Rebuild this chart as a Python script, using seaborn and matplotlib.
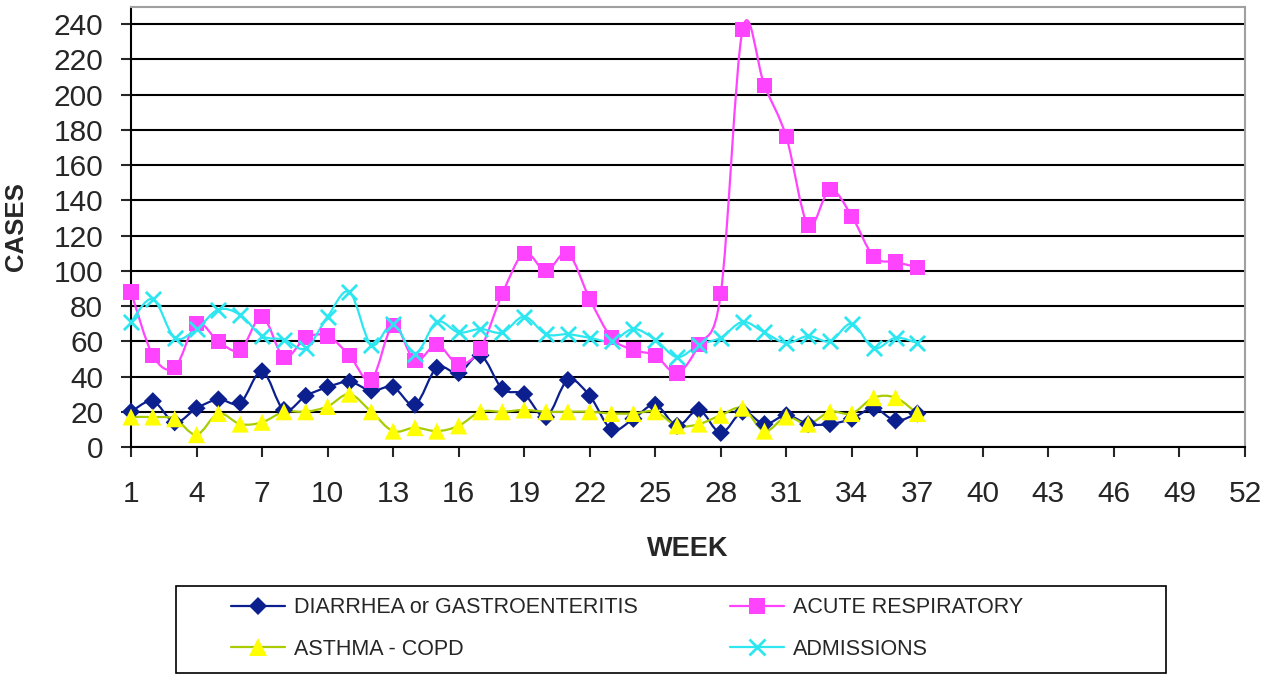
import matplotlib
matplotlib.use("Agg")
import matplotlib.pyplot as plt
from matplotlib.path import Path
from matplotlib.patches import PathPatch, Rectangle
from matplotlib.lines import Line2D
import seaborn as sns
import numpy as np

# data
weeks = list(range(1, 38))
diarrhea = [20, 26, 14, 22, 27, 25, 43, 21, 29, 34, 37, 32, 34, 24, 45, 42, 52, 33, 30, 17,
            38, 29, 10, 16, 24, 12, 21, 8, 20, 13, 18, 13, 13, 16, 22, 15, 19]
acute_resp = [88, 52, 45, 70, 60, 55, 74, 51, 62, 63, 52, 38, 69, 49, 58, 47, 56, 87, 110, 100,
              110, 84, 62, 55, 52, 42, 58, 87, 237, 205, 176, 126, 146, 131, 108, 105, 102]
asthma = [17, 17, 16, 7, 19, 13, 14, 20, 20, 23, 30, 20, 9, 11, 9, 12, 20, 20, 21, 20,
          20, 20, 19, 19, 20, 12, 13, 18, 22, 9, 17, 13, 20, 19, 28, 28, 19]
admissions = [71, 84, 62, 67, 78, 75, 63, 61, 56, 74, 88, 58, 70, 53, 71, 65, 67, 65, 74, 64,
              64, 62, 60, 67, 61, 51, 58, 62, 71, 65, 59, 63, 60, 70, 56, 62, 59]

series_names = ["DIARRHEA or GASTROENTERITIS", "ACUTE RESPIRATORY", "ASTHMA - COPD", "ADMISSIONS"]
x_ticks = list(range(1, 53, 3))
y_ticks = list(range(0, 241, 20))

sns.set_style("white")
plt.rcParams["font.family"] = ["Liberation Sans", "DejaVu Sans"]


def smooth_path(xs, ys):
    # excel-like smoothed line: cubic bezier through every point (catmull-rom control points)
    pts = np.column_stack([xs, ys]).astype(float)
    n = len(pts)
    verts = [pts[0]]
    codes = [Path.MOVETO]
    for i in range(n - 1):
        p0 = pts[i - 1] if i > 0 else pts[i]
        p1 = pts[i]
        p2 = pts[i + 1]
        p3 = pts[i + 2] if i + 2 < n else pts[i + 1]
        c1 = p1 + (p2 - p0) / 6.0
        c2 = p2 - (p3 - p1) / 6.0
        verts += [c1, c2, p2]
        codes += [Path.CURVE4] * 3
    return Path(verts, codes)


fig = plt.figure(figsize=(12.82, 6.75), dpi=100)
ax = fig.add_axes([131 / 1282, 1 - 447 / 675, (1245 - 131) / 1282, (447 - 6.5) / 675])

styles = [
    (diarrhea, "#0b1f8f", "#0b1f8f", "D", 85),
    (acute_resp, "#ff44ff", "#ff44ff", "s", 120),
    (asthma, "#a8cc00", "#ffff00", "^", 150),
    (admissions, "#2ee6f0", "#2ee6f0", "x", 120),
]

handles = []
for (vals, lc, mc, mk, sz), name in zip(styles, series_names):
    ax.add_patch(PathPatch(smooth_path(weeks, vals), fill=False, edgecolor=lc, lw=1.6, zorder=3))
    if mk == "x":
        sns.scatterplot(x=weeks, y=vals, marker=mk, color=mc, s=sz, linewidth=2, ax=ax, zorder=4)
    else:
        sns.scatterplot(x=weeks, y=vals, marker=mk, color=mc, s=sz, edgecolor="none", ax=ax, zorder=4)
    handles.append(Line2D([], [], color=lc, lw=1.6, marker=mk, markersize=np.sqrt(sz),
                          markerfacecolor=mc, markeredgecolor=mc,
                          markeredgewidth=2 if mk == "x" else 0))
for coll in ax.collections:
    coll.set_clip_on(False)

ax.set_xlim(1, 52)
ax.set_ylim(0, 250)
ax.set_xticks(x_ticks)
ax.set_yticks(y_ticks)
ax.yaxis.grid(True, color="black", lw=1.5)
ax.set_axisbelow(True)
for side in ["left", "bottom"]:
    ax.spines[side].set_color("black")
    ax.spines[side].set_linewidth(1.5)
for side in ["top", "right"]:
    ax.spines[side].set_color("#a0a0a0")
    ax.spines[side].set_linewidth(1.5)
ax.tick_params(axis="x", direction="out", length=7, width=1.5, pad=17, labelsize=21.5, bottom=True)
ax.tick_params(axis="y", direction="out", length=7, width=1.5, pad=13, labelsize=21.5, left=True)

ax.set_xlabel("WEEK", fontsize=19.5, fontweight="bold", labelpad=20)
ax.set_ylabel("CASES", fontsize=18.5, fontweight="bold", labelpad=18)

# legend box below the plot; order handles so the two columns read row by row
fig.patches.append(Rectangle((176 / 1282, 1 - 673 / 675), (1166 - 176) / 1282, (673 - 586) / 675,
                             transform=fig.transFigure, fill=False, edgecolor="black", lw=1.2))
order = [0, 2, 1, 3]
fig.legend([handles[i] for i in order], [series_names[i] for i in order],
           loc="upper left", bbox_to_anchor=(212 / 1282, 1 - 578 / 675),
           ncol=2, frameon=False, fontsize=15.5, handlelength=2.5, handletextpad=0.4,
           columnspacing=4.3, labelspacing=0.95)

fig.savefig("out.png", dpi=100)
